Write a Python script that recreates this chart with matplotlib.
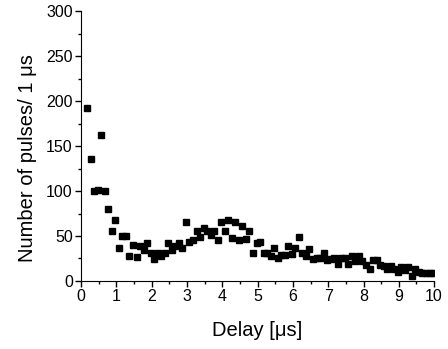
import numpy as np
import matplotlib
matplotlib.use("Agg")
import matplotlib.pyplot as plt
from matplotlib.ticker import MultipleLocator

plt.rcParams['font.family'] = ['Liberation Sans', 'DejaVu Sans']

delay = np.round(np.arange(99) * 0.1 + 0.17, 2)
counts = [192, 136, 100, 101, 162, 100, 80, 55, 68, 37,
          49.6, 49.6, 28, 40, 26.5, 38.5, 34, 42, 31.5, 24.4,
          31.5, 28, 31.5, 42, 34, 38.5, 42, 37, 66, 43,
          46, 55, 49, 59, 55, 51, 56, 45.5, 66, 55,
          68, 48, 65, 45.5, 61.5, 47, 55, 31.5, 42, 43.5,
          31.5, 31.5, 28, 37, 25.5, 29, 29, 38.5, 30.5, 37,
          48.5, 31.5, 28, 36, 24.4, 26, 26, 31.5, 23, 24.4,
          26, 19, 26, 26, 18.5, 28, 22.6, 27.4, 22.6, 17.4,
          13.3, 23.7, 23.7, 17.4, 16.7, 13.3, 16.7, 13.3, 10.4, 15.6,
          11.9, 15.6, 5.6, 13.3, 10.4, 8.5, 8.5, 8.5, 8.5]

fig = plt.figure(figsize=(4.48, 3.49), dpi=100)
ax = fig.add_axes([0.181, 0.195, 0.788, 0.773])
ax.plot(delay, counts, linestyle='none', marker='s', markersize=4.2, color='black')

ax.set_xlim(0, 10)
ax.set_ylim(0, 300)
ax.xaxis.set_major_locator(MultipleLocator(1))
ax.xaxis.set_minor_locator(MultipleLocator(0.5))
ax.yaxis.set_major_locator(MultipleLocator(50))
ax.yaxis.set_minor_locator(MultipleLocator(25))
ax.tick_params(which='major', direction='out', length=4, width=1, labelsize=11.5, pad=2)
ax.tick_params(which='minor', direction='out', length=2, width=1)
for s in ['top', 'right']:
    ax.spines[s].set_visible(False)

ax.set_xlabel('Delay [\u03bcs]', fontsize=14.5, labelpad=12)
ax.set_ylabel('Number of pulses/ 1 \u03bcs', fontsize=14.5)
ax.yaxis.set_label_coords(-0.125, 0.455)

fig.savefig('out.png', dpi=100)
